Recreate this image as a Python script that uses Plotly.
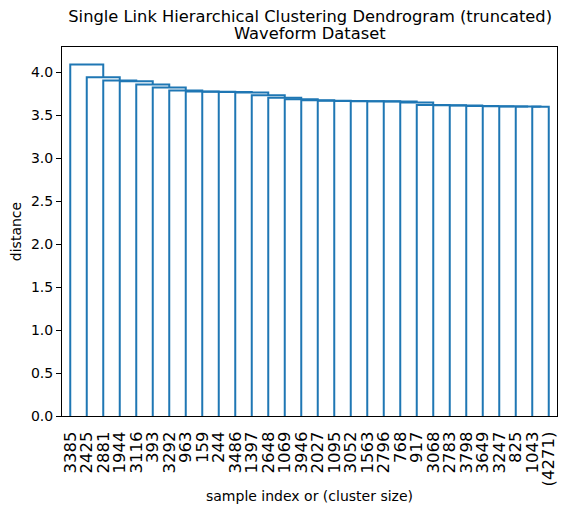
import plotly.graph_objects as go

# leaf labels, left to right (last one is a truncated cluster)
leaf_labels = ['3385', '2425', '2881', '1944', '3116', '393', '3292', '963', '159', '244',
               '3486', '1397', '2648', '1069', '3946', '2027', '1095', '3052', '1563', '2796',
               '768', '917', '3068', '2783', '3798', '3649', '3247', '825', '1043', '(4271)']

# merge distance of each leaf with everything to its right (single link chain)
merge_dist = [4.088, 3.940, 3.902, 3.895, 3.856, 3.821, 3.785, 3.775, 3.772, 3.768,
              3.762, 3.732, 3.702, 3.684, 3.672, 3.666, 3.664, 3.662, 3.660, 3.657,
              3.647, 3.618, 3.615, 3.612, 3.607, 3.604, 3.601, 3.600, 3.598]

leaf_x = [5 + 10 * i for i in range(len(leaf_labels))]

# build the link segments, working from the right-most merge back to the left
xs, ys = [], []
right_x, right_h = leaf_x[-1], 0.0
for k in range(len(merge_dist) - 1, -1, -1):
    h = merge_dist[k]
    xs += [leaf_x[k], leaf_x[k], right_x, right_x, None]
    ys += [0.0, h, h, right_h, None]
    right_x, right_h = (leaf_x[k] + right_x) / 2, h

fig = go.Figure()
fig.add_trace(go.Scatter(x=xs, y=ys, mode='lines',
                         line=dict(color='#1f77b4', width=2), hoverinfo='skip'))

ymax = max(merge_dist) * 1.05

fig.update_layout(
    width=567, height=511,
    margin=dict(l=62, r=10, t=47, b=95, autoexpand=False),
    paper_bgcolor='white', plot_bgcolor='white',
    font=dict(family='DejaVu Sans', size=14, color='black'),
    showlegend=False,
    title=dict(text='Single Link Hierarchical Clustering Dendrogram (truncated)',
               x=0.547, xanchor='center',
               y=0.969, yref='container', yanchor='middle',
               font=dict(size=16.3)),
)
# second title line, placed separately to get matplotlib-like line spacing
fig.add_annotation(text='Waveform Dataset', x=0.5, xref='paper', xanchor='center',
                   y=1.036, yref='paper', yanchor='middle', showarrow=False,
                   font=dict(size=16.3))
fig.update_xaxes(range=[0, 10 * len(leaf_labels)], tickvals=leaf_x, ticktext=leaf_labels,
                 tickangle=-90, tickfont=dict(size=16.5), ticks='', ticklabelstandoff=8,
                 showline=True, linecolor='black', linewidth=1, mirror=True,
                 showgrid=False, zeroline=False, automargin=False,
                 title=dict(text='sample index or (cluster size)', font=dict(size=14), standoff=5))
fig.update_yaxes(range=[0, ymax], dtick=0.5, tick0=0, tickformat='.1f',
                 ticks='outside', ticklen=5, tickcolor='black',
                 showline=True, linecolor='black', linewidth=1, mirror=True,
                 showgrid=False, zeroline=False, automargin=False,
                 title=dict(text='distance', font=dict(size=14), standoff=6))

# the page body has a default 8px margin; drop it so the figure sits at the corner
fig.write_html("out.html", config={'displayModeBar': False},
               post_script="document.body.style.margin='0';")
